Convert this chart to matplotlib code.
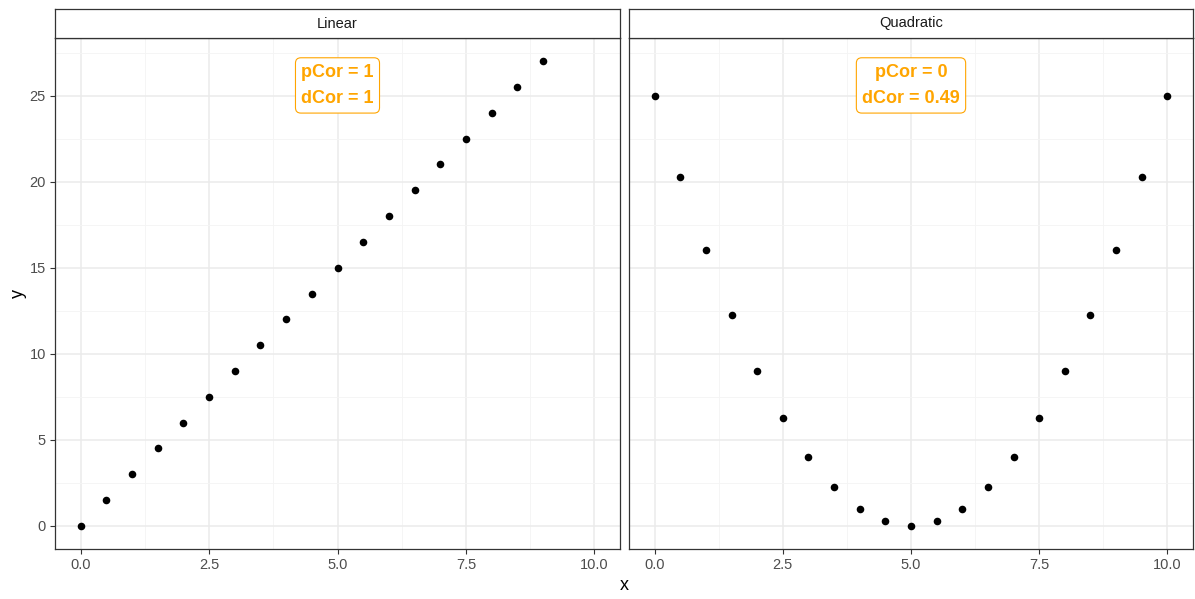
import matplotlib
matplotlib.use("Agg")
import matplotlib.pyplot as plt
from matplotlib.ticker import MultipleLocator, FixedLocator

plt.rcParams['font.family'] = ['Liberation Sans', 'DejaVu Sans']

# Linear relationship
lin_x = [0.0, 0.5, 1.0, 1.5, 2.0, 2.5, 3.0, 3.5, 4.0, 4.5, 5.0, 5.5, 6.0, 6.5,
         7.0, 7.5, 8.0, 8.5, 9.0]
lin_y = [0.0, 1.5, 3.0, 4.5, 6.0, 7.5, 9.0, 10.5, 12.0, 13.5, 15.0, 16.5, 18.0,
         19.5, 21.0, 22.5, 24.0, 25.5, 27.0]

# Quadratic relationship
quad_x = [0.0, 0.5, 1.0, 1.5, 2.0, 2.5, 3.0, 3.5, 4.0, 4.5, 5.0, 5.5, 6.0, 6.5,
          7.0, 7.5, 8.0, 8.5, 9.0, 9.5, 10.0]
quad_y = [25.0, 20.25, 16.0, 12.25, 9.0, 6.25, 4.0, 2.25, 1.0, 0.25, 0.0, 0.25,
          1.0, 2.25, 4.0, 6.25, 9.0, 12.25, 16.0, 20.25, 25.0]

panel_titles = ["Linear", "Quadratic"]
panel_labels = ["pCor = 1\ndCor = 1", "pCor = 0\ndCor = 0.49"]
x_ticks = [0.0, 2.5, 5.0, 7.5, 10.0]
x_ticklabels = ["0.0", "2.5", "5.0", "7.5", "10.0"]
y_ticks = [0, 5, 10, 15, 20, 25]

W, H = 1195, 599
fig = plt.figure(figsize=(W / 100, H / 100), dpi=100)

panel_left = [55, 629]
panel_right = [620, 1193]
panel_top, panel_bottom, strip_top = 38, 549, 9

orange = "#FFA500"
data = [(lin_x, lin_y), (quad_x, quad_y)]

for i in range(2):
    l = panel_left[i] / W
    w = (panel_right[i] - panel_left[i]) / W
    b = (H - panel_bottom) / H
    h = (panel_bottom - panel_top) / H
    ax = fig.add_axes([l, b, w, h])
    xs, ys = data[i]
    ax.scatter(xs, ys, s=30, color="black", zorder=3, linewidths=0)
    ax.set_xlim(-0.5, 10.5)
    ax.set_ylim(-1.35, 28.35)
    ax.xaxis.set_major_locator(FixedLocator(x_ticks))
    ax.xaxis.set_minor_locator(MultipleLocator(1.25))
    ax.yaxis.set_major_locator(FixedLocator(y_ticks))
    ax.yaxis.set_minor_locator(MultipleLocator(2.5))
    ax.set_xticklabels(x_ticklabels)
    ax.grid(which="major", color="#EBEBEB", linewidth=1.1, zorder=0)
    ax.grid(which="minor", color="#F4F4F4", linewidth=0.6, zorder=0)
    ax.set_axisbelow(True)
    for sp in ax.spines.values():
        sp.set_color("#333333")
        sp.set_linewidth(0.9)
    ax.tick_params(which="major", length=3.5, width=0.8, color="#333333",
                   labelsize=10.5, labelcolor="#4D4D4D", pad=3)
    ax.tick_params(which="minor", length=0)
    if i == 0:
        ax.set_ylabel("y", fontsize=13, color="black", labelpad=2)
    else:
        ax.tick_params(axis="y", which="major", left=False, labelleft=False)

    ax.text(0.5, 0.95, panel_labels[i], transform=ax.transAxes,
            ha="center", va="top", color=orange, fontsize=13, fontweight="bold",
            linespacing=1.75,
            bbox=dict(boxstyle="round,pad=0.32,rounding_size=0.3",
                      facecolor="white", edgecolor=orange, linewidth=0.8))

    # facet strip
    sax = fig.add_axes([l, (H - panel_top) / H, w, (panel_top - strip_top) / H])
    sax.set_xticks([])
    sax.set_yticks([])
    sax.set_facecolor("white")
    for sp in sax.spines.values():
        sp.set_color("#333333")
        sp.set_linewidth(0.9)
    sax.text(0.5, 0.5, panel_titles[i], ha="center", va="center",
             fontsize=10.5, color="#1A1A1A", transform=sax.transAxes)

fig.text((55 + 1193) / 2 / W, 14 / H, "x", ha="center", va="center",
         fontsize=13, color="black")

fig.savefig("out.png", dpi=100, facecolor="white")
